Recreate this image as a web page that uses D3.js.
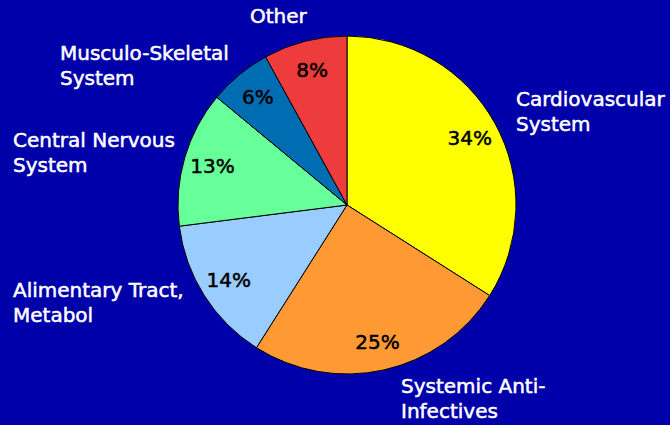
<!DOCTYPE html>
<html>
<head>
<meta charset="utf-8">
<script src="https://cdn.jsdelivr.net/npm/d3@7"></script>
<style>
  html, body { margin: 0; padding: 0; background: #0000AA; }
  svg { display: block; }
  text { font-family: "DejaVu Sans", Verdana, sans-serif; font-size: 20px; }
</style>
</head>
<body>
<svg id="chart" width="670" height="425"></svg>
<script>
// Therapeutic area shares, clockwise from 12 o'clock
const categories = [
  ["Cardiovascular", "System"],
  ["Systemic Anti-", "Infectives"],
  ["Alimentary Tract,", "Metabol"],
  ["Central Nervous", "System"],
  ["Musculo-Skeletal", "System"],
  ["Other"]
];
const shares = [34, 25, 14, 13, 6, 8];
const sliceColors = ["#FFFF00", "#FF9933", "#99CCFF", "#66FF99", "#006DB3", "#EE3B3B"];

const width = 670, height = 425;
const cx = 347, cy = 205, radius = 169;

const svg = d3.select("#chart");
svg.append("rect").attr("width", width).attr("height", height).attr("fill", "#0000AA");

const data = shares.map((v, i) => ({ name: categories[i], value: v, color: sliceColors[i] }));

const pie = d3.pie().value(d => d.value).sort(null);
const arcs = pie(data);
const arc = d3.arc().innerRadius(0).outerRadius(radius);
const labelArc = d3.arc().innerRadius(140).outerRadius(140);

const g = svg.append("g").attr("transform", `translate(${cx},${cy})`);

g.selectAll("path.slice")
  .data(arcs)
  .join("path")
  .attr("class", "slice")
  .attr("d", arc)
  .attr("fill", d => d.data.color)
  .attr("stroke", "#000")
  .attr("stroke-width", 1);

// percentage labels inside the slices
g.selectAll("text.pct")
  .data(arcs)
  .join("text")
  .attr("class", "pct")
  .attr("transform", d => `translate(${labelArc.centroid(d)})`)
  .attr("text-anchor", "middle")
  .attr("dy", "0.36em")
  .attr("fill", "#000")
  .attr("stroke", "#000")
  .attr("stroke-width", 0.5)
  .text(d => d.data.value + "%");

// category names outside the pie
const nameAnchors = [
  [516, 106], [401, 393], [13, 297], [13, 147], [60, 60], [250, 23]
];
const lineGap = 25;
svg.selectAll("text.name")
  .data(data)
  .join("text")
  .attr("class", "name")
  .attr("fill", "#fff")
  .attr("stroke", "#fff")
  .attr("stroke-width", 0.5)
  .attr("x", (d, i) => nameAnchors[i][0])
  .attr("y", (d, i) => nameAnchors[i][1])
  .each(function (d, i) {
    d3.select(this).selectAll("tspan")
      .data(d.name)
      .join("tspan")
      .attr("x", nameAnchors[i][0])
      .attr("dy", (t, j) => j === 0 ? 0 : lineGap)
      .text(t => t);
  });
</script>
</body>
</html>
